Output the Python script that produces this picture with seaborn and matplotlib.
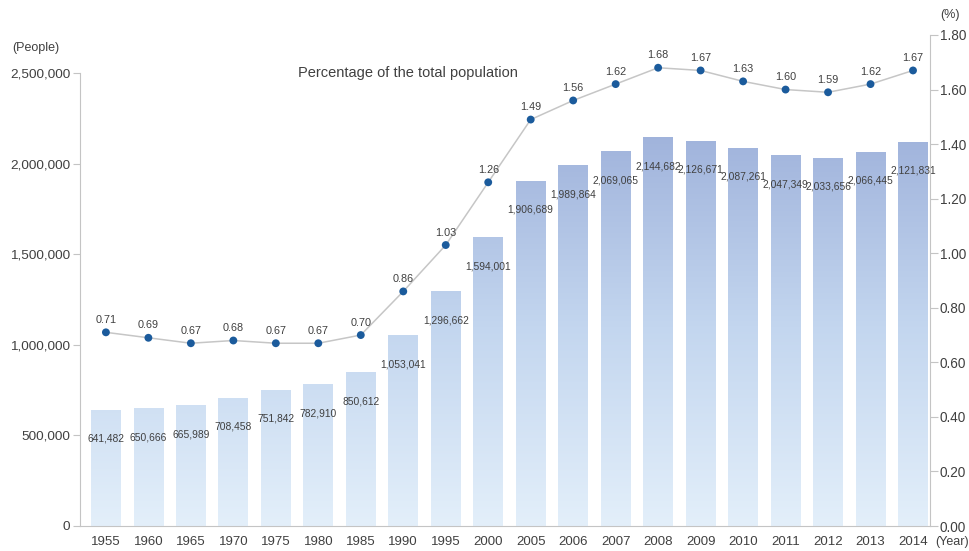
import numpy as np
import pandas as pd
import matplotlib
matplotlib.use("Agg")
import matplotlib.pyplot as plt
from matplotlib.colors import LinearSegmentedColormap
import seaborn as sns

# --- Data ---
years = ["1955", "1960", "1965", "1970", "1975", "1980", "1985", "1990", "1995", "2000",
         "2005", "2006", "2007", "2008", "2009", "2010", "2011", "2012", "2013", "2014"]
people = [641482, 650666, 665989, 708458, 751842, 782910, 850612, 1053041, 1296662, 1594001,
          1906689, 1989864, 2069065, 2144682, 2126671, 2087261, 2047349, 2033656, 2066445, 2121831]
percent = [0.71, 0.69, 0.67, 0.68, 0.67, 0.67, 0.70, 0.86, 1.03, 1.26,
           1.49, 1.56, 1.62, 1.68, 1.67, 1.63, 1.60, 1.59, 1.62, 1.67]
left_ticks = [0, 500000, 1000000, 1500000, 2000000, 2500000]
right_ticks = [0.0, 0.2, 0.4, 0.6, 0.8, 1.0, 1.2, 1.4, 1.6, 1.8]

df = pd.DataFrame({"year": years, "people": people, "percent": percent})
df["pos"] = np.arange(len(df))

# --- Style ---
sns.set_style("white")
plt.rcParams["font.family"] = ["Liberation Sans", "DejaVu Sans"]
text_col = "#404040"
axis_col = "#c4c4c4"

fig = plt.figure(figsize=(9.7, 5.51), dpi=100)
ax = fig.add_axes([80 / 970, 25 / 551, 850 / 970, 491 / 551])

sns.barplot(data=df, x="year", y="people", ax=ax, width=0.7, color="#c0d4ee",
            saturation=1, order=years)

left_top = 2500000 * 491 / 453
ax.set_xlim(-0.61, 19.4)
ax.set_ylim(0, left_top)

# vertical gradient inside the bars
cmap = LinearSegmentedColormap.from_list("bars", ["#e3effa", "#c3d6ef", "#9fb2db"])
grad = np.linspace(0, 1, 256).reshape(-1, 1)
for patch in ax.patches:
    x0 = patch.get_x()
    x1 = x0 + patch.get_width()
    im = ax.imshow(grad, extent=[x0, x1, 0, 2200000], origin="lower", aspect="auto",
                   cmap=cmap, zorder=1)
    im.set_clip_path(patch)
    patch.set_facecolor("none")
    patch.set_edgecolor("none")
ax.set_xlim(-0.61, 19.4)
ax.set_ylim(0, left_top)

for pos, val in zip(df["pos"], df["people"]):
    ax.annotate(f"{val:,}", (pos, val), xytext=(0, -21), textcoords="offset points",
                ha="center", va="center", fontsize=7.4, color=text_col, zorder=3)

ax.set_yticks(left_ticks)
ax.set_yticklabels([f"{t:,}" for t in left_ticks])
ax.set_xlabel("")
ax.set_ylabel("")
ax.tick_params(axis="y", length=5, width=0.8, color=axis_col, labelsize=9.7,
               labelcolor=text_col, pad=2, direction="out", left=True)
ax.tick_params(axis="x", length=0, labelsize=9.5, labelcolor=text_col, pad=7)
for side in ["top", "right"]:
    ax.spines[side].set_visible(False)
ax.spines["left"].set_color(axis_col)
ax.spines["left"].set_bounds(0, 2500000)
ax.spines["bottom"].set_color(axis_col)

# --- Percentage line ---
ax2 = ax.twinx()
sns.lineplot(data=df, x="pos", y="percent", ax=ax2, color="#c6c6c6", linewidth=1.1)
sns.scatterplot(data=df, x="pos", y="percent", ax=ax2, color="#1b5b9c", s=32,
                edgecolor="none", zorder=4)
for pos, val in zip(df["pos"], df["percent"]):
    ax2.annotate(f"{val:.2f}", (pos, val), xytext=(0, 9), textcoords="offset points",
                 ha="center", va="center", fontsize=7.8, color=text_col)

ax2.set_ylim(0, 1.8)
ax2.set_xlim(-0.61, 19.4)
ax2.set_yticks(right_ticks)
ax2.set_yticklabels([f"{t:.2f}" for t in right_ticks])
ax2.set_xlabel("")
ax2.set_ylabel("")
ax2.tick_params(axis="y", length=6, width=0.8, color=axis_col, labelsize=9.8,
                labelcolor=text_col, pad=1, direction="out", right=True)
for side in ["top", "left", "bottom"]:
    ax2.spines[side].set_visible(False)
ax2.spines["right"].set_color(axis_col)

# --- Annotations ---
fig.text(12 / 970, 1 - 48 / 551, "(People)", fontsize=9, color=text_col, va="center")
fig.text(950 / 970, 1 - 15 / 551, "(%)", fontsize=9, color=text_col, va="center", ha="center")
fig.text(952 / 970, 1 - 542 / 551, "(Year)", fontsize=9, color=text_col, va="center", ha="center")
fig.text(298 / 970, 1 - 73 / 551, "Percentage of the total population", fontsize=10.5,
         color=text_col, va="center")

fig.savefig("out.png", dpi=100)
